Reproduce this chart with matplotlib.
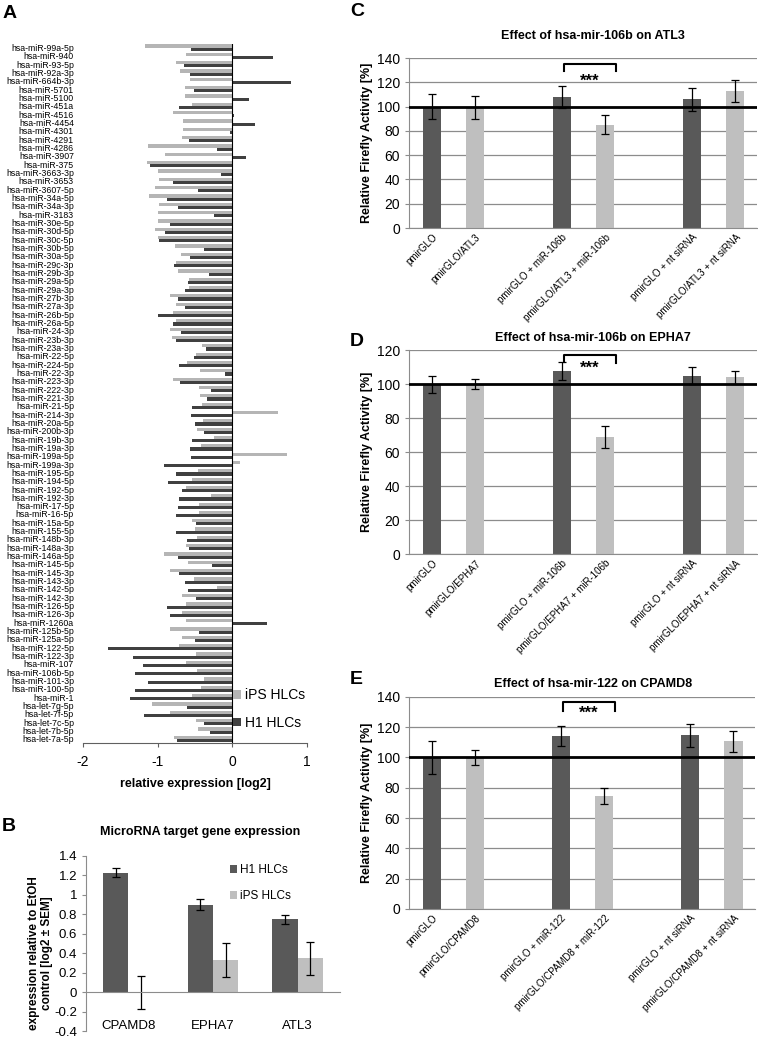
import numpy as np
import matplotlib
matplotlib.use('Agg')
import matplotlib.pyplot as plt
from matplotlib.ticker import FuncFormatter

plt.rcParams['font.family'] = ['Liberation Sans', 'DejaVu Sans']
plt.rcParams['axes.unicode_minus'] = False

# Panel A: microRNA expression
mirnas = ['hsa-miR-99a-5p', 'hsa-miR-940', 'hsa-miR-93-5p', 'hsa-miR-92a-3p', 'hsa-miR-664b-3p',
          'hsa-miR-5701', 'hsa-miR-5100', 'hsa-miR-451a', 'hsa-miR-4516', 'hsa-miR-4454',
          'hsa-miR-4301', 'hsa-miR-4291', 'hsa-miR-4286', 'hsa-miR-3907', 'hsa-miR-375',
          'hsa-miR-3663-3p', 'hsa-miR-3653', 'hsa-miR-3607-5p', 'hsa-miR-34a-5p', 'hsa-miR-34a-3p',
          'hsa-miR-3183', 'hsa-miR-30e-5p', 'hsa-miR-30d-5p', 'hsa-miR-30c-5p', 'hsa-miR-30b-5p',
          'hsa-miR-30a-5p', 'hsa-miR-29c-3p', 'hsa-miR-29b-3p', 'hsa-miR-29a-5p', 'hsa-miR-29a-3p',
          'hsa-miR-27b-3p', 'hsa-miR-27a-3p', 'hsa-miR-26b-5p', 'hsa-miR-26a-5p', 'hsa-miR-24-3p',
          'hsa-miR-23b-3p', 'hsa-miR-23a-3p', 'hsa-miR-22-5p', 'hsa-miR-224-5p', 'hsa-miR-22-3p',
          'hsa-miR-223-3p', 'hsa-miR-222-3p', 'hsa-miR-221-3p', 'hsa-miR-21-5p', 'hsa-miR-214-3p',
          'hsa-miR-20a-5p', 'hsa-miR-200b-3p', 'hsa-miR-19b-3p', 'hsa-miR-19a-3p', 'hsa-miR-199a-5p',
          'hsa-miR-199a-3p', 'hsa-miR-195-5p', 'hsa-miR-194-5p', 'hsa-miR-192-5p', 'hsa-miR-192-3p',
          'hsa-miR-17-5p', 'hsa-miR-16-5p', 'hsa-miR-15a-5p', 'hsa-miR-155-5p', 'hsa-miR-148b-3p',
          'hsa-miR-148a-3p', 'hsa-miR-146a-5p', 'hsa-miR-145-5p', 'hsa-miR-145-3p', 'hsa-miR-143-3p',
          'hsa-miR-142-5p', 'hsa-miR-142-3p', 'hsa-miR-126-5p', 'hsa-miR-126-3p', 'hsa-miR-1260a',
          'hsa-miR-125b-5p', 'hsa-miR-125a-5p', 'hsa-miR-122-5p', 'hsa-miR-122-3p', 'hsa-miR-107',
          'hsa-miR-106b-5p', 'hsa-miR-101-3p', 'hsa-miR-100-5p', 'hsa-miR-1', 'hsa-let-7g-5p',
          'hsa-let-7f-5p', 'hsa-let-7c-5p', 'hsa-let-7b-5p', 'hsa-let-7a-5p']

ips_hlcs = [-1.17, -0.625, -0.75, -0.70, -0.57, -0.64, -0.63, -0.54, -0.79, -0.66,
            -0.66, -0.67, -1.13, -0.90, -1.14, -0.99, -0.98, -1.03, -1.12, -0.98,
            -0.99, -0.99, -1.03, -0.99, -0.77, -0.69, -0.75, -0.73, -0.58, -0.58,
            -0.83, -0.75, -0.79, -0.76, -0.83, -0.81, -0.41, -0.48, -0.61, -0.43,
            -0.79, -0.44, -0.43, -0.40, 0.61, -0.39, -0.47, -0.25, -0.42, 0.73,
            0.10, -0.46, -0.54, -0.62, -0.29, -0.45, -0.45, -0.54, -0.50, -0.47,
            -0.62, -0.92, -0.60, -0.83, -0.52, -0.21, -0.68, -0.62, -0.67, -0.62,
            -0.83, -0.68, -0.71, -0.48, -0.62, -0.47, -0.38, -0.42, -0.54, -1.08,
            -0.83, -0.48, -0.46, -0.78]

h1_hlcs = [-0.56, 0.54, -0.65, -0.57, 0.79, -0.51, 0.22, -0.71, 0.02, 0.30,
           -0.03, -0.58, -0.21, 0.18, -1.10, -0.15, -0.79, -0.46, -0.88, -0.73,
           -0.25, -0.83, -0.90, -0.98, -0.38, -0.57, -0.78, -0.31, -0.59, -0.64,
           -0.73, -0.63, -1.00, -0.79, -0.69, -0.75, -0.35, -0.51, -0.72, -0.10,
           -0.70, -0.29, -0.34, -0.54, -0.55, -0.50, -0.38, -0.54, -0.57, -0.55,
           -0.91, -0.75, -0.86, -0.67, -0.72, -0.73, -0.76, -0.48, -0.75, -0.61,
           -0.58, -0.73, -0.27, -0.72, -0.63, -0.59, -0.48, -0.87, -0.84, 0.47,
           -0.44, -0.50, -1.67, -1.33, -1.19, -1.30, -1.13, -1.30, -1.37, -0.61,
           -1.18, -0.38, -0.30, -0.74]

# Panel B: target gene expression
genes = ['CPAMD8', 'EPHA7', 'ATL3']
h1_expr = [1.23, 0.90, 0.75]
h1_sem = [0.045, 0.055, 0.045]
ips_expr = [-0.005, 0.33, 0.35]
ips_sem = [0.17, 0.175, 0.17]

# Panels C-E: luciferase assays
atl3_labels = ['pmirGLO', 'pmirGLO/ATL3', 'pmirGLO + miR-106b', 'pmirGLO/ATL3 + miR-106b',
               'pmirGLO + nt siRNA', 'pmirGLO/ATL3 + nt siRNA']
atl3_vals = [100, 99, 108, 85, 106, 113]
atl3_err = [10, 9.5, 9.2, 7.7, 9.3, 9]

epha7_labels = ['pmirGLO', 'pmirGLO/EPHA7', 'pmirGLO + miR-106b', 'pmirGLO/EPHA7 + miR-106b',
                'pmirGLO + nt siRNA', 'pmirGLO/EPHA7 + nt siRNA']
epha7_vals = [100, 100, 107.6, 69, 105, 104]
epha7_err = [5, 3.2, 5.3, 6.5, 5.2, 3.8]

cpamd8_labels = ['pmirGLO', 'pmirGLO/CPAMD8', 'pmirGLO + miR-122', 'pmirGLO/CPAMD8 + miR-122',
                 'pmirGLO + nt siRNA', 'pmirGLO/CPAMD8 + nt siRNA']
cpamd8_vals = [100, 100, 114, 74.5, 114.5, 110.5]
cpamd8_err = [10.8, 5, 6.6, 5.3, 7.6, 6.7]

bar_pos = [0, 1, 3, 4, 6, 7]

W, H = 758, 1039
fig = plt.figure(figsize=(W / 100, H / 100), dpi=100)

DARK = '#404040'
LIGHT = '#b5b5b5'
GRID = '#8c8c8c'

# ---------------- Panel A ----------------
axA = fig.add_axes([83 / W, 1 - 743 / H, 224 / W, 699.5 / H])
y = np.arange(len(mirnas))[::-1]
bh = 0.38
b_ips = axA.barh(y + bh / 2, ips_hlcs, height=bh, color=LIGHT, label='iPS HLCs')
b_h1 = axA.barh(y - bh / 2, h1_hlcs, height=bh, color=DARK, label='H1 HLCs')
axA.axvline(0, color='black', lw=0.8)
axA.set_xlim(-2, 1)
axA.set_ylim(-0.5, len(mirnas) - 0.5)
axA.set_yticks(y, mirnas)
axA.tick_params(axis='y', length=0, labelsize=6.3, pad=6.5)
axA.set_xticks([-2, -1, 0, 1])
axA.tick_params(axis='x', labelsize=10, length=3, pad=6, color='#606060')
for s in ['left', 'top', 'right']:
    axA.spines[s].set_visible(False)
axA.spines['bottom'].set_color('#606060')
fig.text(195 / W, 1 - 784 / H, 'relative expression [log2]', ha='center', va='center',
         fontsize=9, fontweight='bold')
axA.legend(handles=[b_ips, b_h1], loc='upper left', bbox_to_anchor=(233 / W, 1 - 688 / H),
           bbox_transform=fig.transFigure, frameon=False, fontsize=10, handlelength=0.6,
           handleheight=0.6, handletextpad=0.25, labelspacing=1.0, borderaxespad=0, borderpad=0)

# ---------------- Panel B ----------------
axB = fig.add_axes([86 / W, 1 - 1031 / H, 254 / W, 175 / H])
xg = np.arange(len(genes))
bw = 0.3
ekw = dict(lw=0.9, capthick=0.9)
bB1 = axB.bar(xg - bw / 2, h1_expr, bw, yerr=h1_sem, color='#595959', ecolor='black',
              capsize=3, error_kw=ekw, label='H1 HLCs')
bB2 = axB.bar(xg + bw / 2, ips_expr, bw, yerr=ips_sem, color='#bfbfbf', ecolor='black',
              capsize=3, error_kw=ekw, label='iPS HLCs')
axB.set_xlim(-0.5, len(genes) - 0.5)
axB.set_ylim(-0.4, 1.4)
axB.set_yticks(np.arange(-0.4, 1.41, 0.2))
axB.yaxis.set_major_formatter(FuncFormatter(lambda v, _: '0' if abs(v) < 1e-9 else f'{round(v, 1):g}'))
axB.tick_params(axis='y', labelsize=9.5, length=3, color=GRID)
axB.set_xticks(xg, genes)
axB.tick_params(axis='x', length=0, pad=20, labelsize=9.5)
axB.spines['bottom'].set_position(('data', 0))
axB.spines['bottom'].set_color(GRID)
axB.spines['left'].set_color(GRID)
axB.spines['top'].set_visible(False)
axB.spines['right'].set_visible(False)
axB.legend(handles=[bB1, bB2], loc='upper left', bbox_to_anchor=(230 / W, 1 - 864 / H),
           bbox_transform=fig.transFigure, frameon=False, fontsize=8.5, handlelength=0.6,
           handleheight=0.6, handletextpad=0.25, labelspacing=1.2, borderaxespad=0, borderpad=0)
fig.text(200 / W, 1 - 832 / H, 'MicroRNA target gene expression', ha='center', va='center',
         fontsize=9, fontweight='bold')
fig.text(40.5 / W, 1 - 953 / H, 'expression relative to EtOH\ncontrol [log2 \u00b1 SEM]',
         rotation=90, ha='center', va='center', multialignment='center',
         fontsize=8.5, fontweight='bold', linespacing=1.2)

# ---------------- Panels C-E ----------------
def luciferase(rect, labels, vals, errs, ymax, title, title_y, bracket, star_y):
    ax = fig.add_axes(rect)
    colors = ['#595959', '#bfbfbf'] * 3
    ax.bar(bar_pos, vals, 0.42, yerr=errs, color=colors, ecolor='black', capsize=3,
           error_kw=dict(lw=0.9, capthick=0.9), zorder=2)
    ax.axhline(100, color='black', lw=2, zorder=4)
    ax.set_xlim(-0.53, 7.5)
    ax.set_ylim(0, ymax)
    ax.set_yticks(np.arange(0, ymax + 1, 20))
    ax.yaxis.grid(True, color=GRID, lw=0.9)
    ax.set_axisbelow(True)
    ax.tick_params(axis='y', labelsize=10, length=3, color=GRID)
    ax.set_xticks(bar_pos)
    ax.set_xticklabels(labels, rotation=45, ha='right', rotation_mode='anchor', fontsize=7)
    ax.tick_params(axis='x', length=0, pad=3)
    for s in ['top', 'right']:
        ax.spines[s].set_visible(False)
    ax.spines['left'].set_color(GRID)
    ax.spines['bottom'].set_color(GRID)
    top, lo_l, lo_r = bracket
    x0, x1 = bar_pos[2] + 0.05, bar_pos[3] + 0.25
    ax.plot([x0, x0, x1, x1], [lo_l, top, top, lo_r], color='black', lw=1.5, zorder=5)
    ax.text((x0 + x1) / 2, star_y, '***', ha='center', va='center', fontsize=12,
            fontweight='bold', zorder=5)
    cy = rect[1] + rect[3] / 2
    fig.text(367 / W, cy, 'Relative Firefly Activity [%]', rotation=90, ha='center',
             va='center', fontsize=9, fontweight='bold')
    fig.text(593 / W, title_y, title, ha='center', va='center', fontsize=9, fontweight='bold')
    return ax

luciferase([409 / W, 1 - 228 / H, 348 / W, 170 / H], atl3_labels, atl3_vals, atl3_err, 140,
           'Effect of hsa-mir-106b on ATL3', 1 - 36 / H, (135, 129.5, 129.5), 120.5)
luciferase([409 / W, 1 - 554 / H, 348 / W, 204 / H], epha7_labels, epha7_vals, epha7_err, 120,
           'Effect of hsa-mir-106b on EPHA7', 1 - 338 / H, (117, 113, 112.5), 109.5)
luciferase([409 / W, 1 - 909 / H, 346 / W, 212.3 / H], cpamd8_labels, cpamd8_vals, cpamd8_err, 140,
           'Effect of hsa-mir-122 on CPAMD8', 1 - 684 / H, (136.7, 130.8, 130.8), 129)

# panel letters
for letter, px, py in [('A', 3, 5), ('B', 2, 818), ('C', 350, 3), ('D', 350, 333), ('E', 350, 671)]:
    fig.text(px / W, 1 - py / H, letter, ha='left', va='top', fontsize=14, fontweight='bold')

fig.savefig('out.png', dpi=100)
